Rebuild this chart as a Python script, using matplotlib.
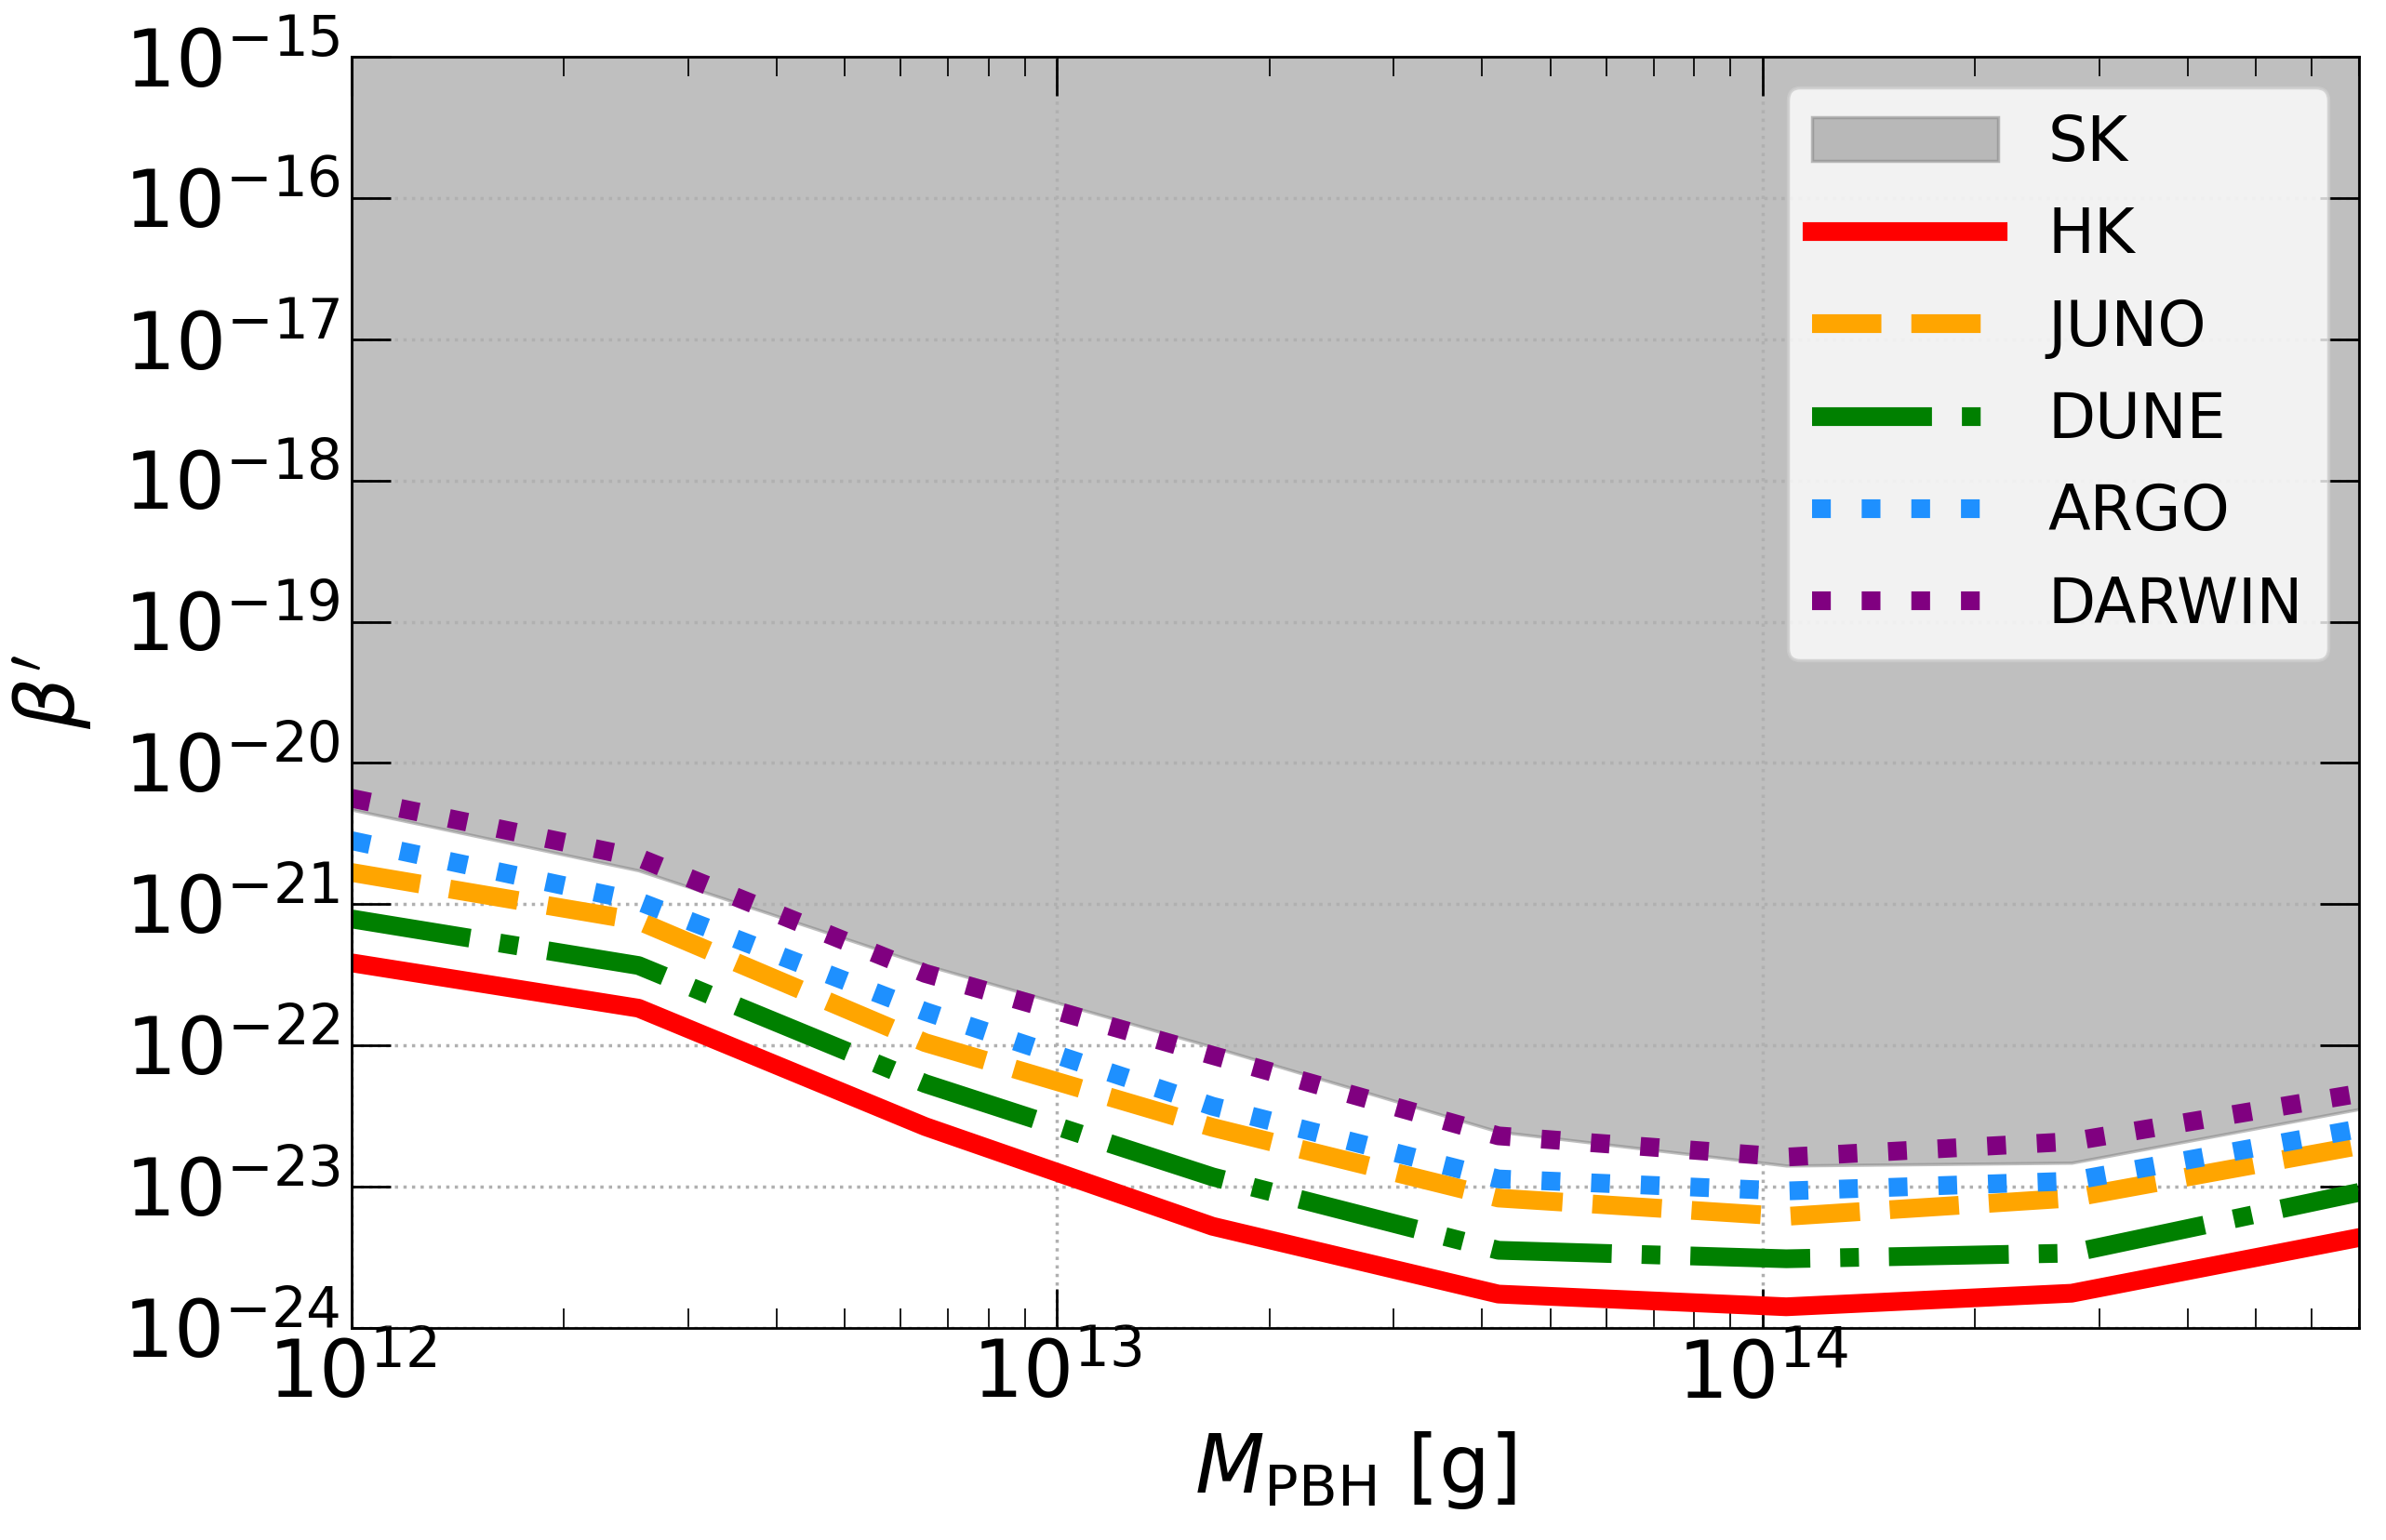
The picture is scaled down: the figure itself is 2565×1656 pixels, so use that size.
import matplotlib
matplotlib.use('Agg')
import matplotlib.pyplot as plt
import matplotlib.ticker as mticker
import numpy as np

# PBH mass grid [g]
m_pbh = [1.0e12, 2.55e12, 6.5e12, 1.66e13, 4.22e13, 1.08e14, 2.74e14, 7.0e14]

# log10 of beta' limits for each experiment
log_sk = [-20.33, -20.76, -21.43, -22.01, -22.61, -22.85, -22.83, -22.45]
log_hk = [-21.415, -21.736, -22.574, -23.28, -23.76, -23.85, -23.754, -23.36]
log_juno = [-20.775, -21.118, -21.98, -22.58, -23.08, -23.21, -23.08, -22.71]
log_dune = [-21.104, -21.434, -22.27, -22.93, -23.45, -23.51, -23.47, -23.04]
log_argo = [-20.55, -20.98, -21.76, -22.43, -22.945, -23.03, -22.96, -22.59]
log_darwin = [-20.25, -20.67, -21.49, -22.07, -22.64, -22.79, -22.68, -22.34]

x = np.array(m_pbh)

fig = plt.figure(figsize=(2565 / 250, 1656 / 250), dpi=250)
ax = fig.add_axes([378 / 2565, 228 / 1656, 2158 / 2565, 1367 / 1656])

# SK excluded region
ax.fill_between(x, 10.0 ** np.array(log_sk), 1e-15, color='gray', alpha=0.5, label='SK')

ax.plot(x, 10.0 ** np.array(log_hk), color='red', lw=5.8, ls='-', label='HK')
ax.plot(x, 10.0 ** np.array(log_juno), color='orange', lw=5.8, ls='--', label='JUNO')
ax.plot(x, 10.0 ** np.array(log_dune), color='green', lw=5.8, ls='-.', label='DUNE')
ax.plot(x, 10.0 ** np.array(log_argo), color='dodgerblue', lw=5.8, ls=':', label='ARGO')
ax.plot(x, 10.0 ** np.array(log_darwin), color='purple', lw=5.8, ls=':', label='DARWIN')

ax.set_xscale('log')
ax.set_yscale('log')
ax.set_xlim(1e12, 7.0e14)
ax.set_ylim(1e-24, 1e-15)
ax.yaxis.set_major_locator(mticker.LogLocator(base=10, numticks=20))
ax.yaxis.set_minor_locator(mticker.NullLocator())

ax.grid(True, which='major', color='#b0b0b0', ls=':', lw=1.0)

ax.tick_params(which='both', direction='in', top=True, right=True)
ax.tick_params(which='major', length=12, width=0.8, labelsize=24.5)
ax.tick_params(which='minor', length=6, width=0.5)
ax.tick_params(axis='y', pad=3.5)
ax.tick_params(axis='x', pad=3)
for s in ax.spines.values():
    s.set_linewidth(0.8)

ax.set_xlabel(r'$M_{\rm PBH}$ [g]', fontsize=25, labelpad=4.5)
ax.set_ylabel(r"$\beta'$", fontsize=25, labelpad=9)

ax.legend(loc='upper right', fontsize=19.2, handlelength=3.0, labelspacing=0.5)

plt.savefig('out.png', dpi=250)
